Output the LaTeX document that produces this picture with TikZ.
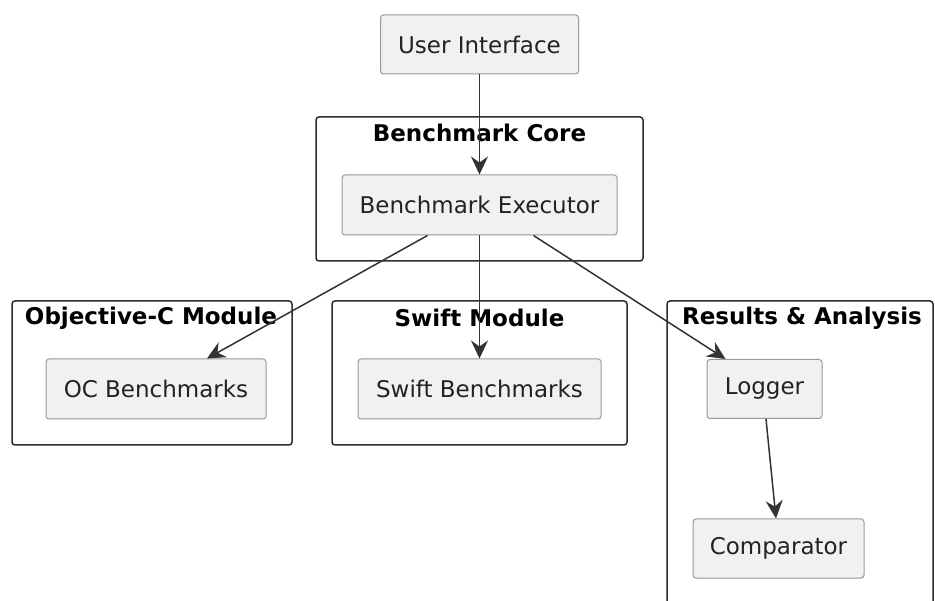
\documentclass[tikz,border=0pt]{standalone}
\usepackage{fontspec}
\setmainfont{DejaVu Sans}
\usetikzlibrary{arrows.meta,calc}
\definecolor{compfill}{HTML}{F1F1F1}
\definecolor{compdraw}{HTML}{999999}
\definecolor{txt}{HTML}{222222}
\definecolor{clus}{HTML}{2E2E2E}
\definecolor{arr}{HTML}{333333}
\begin{document}
\begin{tikzpicture}[x=1pt,y=-1pt,
  comp/.style={draw=compdraw, fill=compfill, line width=1pt, rounded corners=3pt,
    inner sep=0pt, text=txt, font=\fontsize{23}{27}\selectfont},
  clusterbox/.style={draw=clus, line width=1.5pt, rounded corners=3pt},
  clustertitle/.style={inner sep=0pt, text=black, font=\fontsize{23}{27}\selectfont\bfseries},
  conn/.style={draw=arr, line width=1.5pt, -{Stealth[length=18pt,width=17pt,inset=6pt]}}]
\useasboundingbox (0,0) rectangle (935,601);
\clip (0,0) rectangle (935,601);
\fill[white] (0,0) rectangle (935,601);
% clusters
\draw[clusterbox] (316,117) rectangle (643,261);
\node[clustertitle] (tcore) at (479.5,133) {Benchmark Core};
\draw[clusterbox] (12,301) rectangle (292,445);
\node[clustertitle] (toc) at (151,318) {Objective-C Module};
\draw[clusterbox] (332,301) rectangle (627,445);
\node[clustertitle] (tsw) at (479.5,318) {Swift Module};
\draw[clusterbox] (667,301) rectangle (933,640);
\node[clustertitle] (tres) at (802,318) {Results \& Analysis};
% components
\node[comp, minimum width=198pt, minimum height=59pt] (ui) at (479.5,44.5) {User Interface};
\node[comp, minimum width=275pt, minimum height=60pt] (exec) at (479.5,205) {Benchmark Executor};
\node[comp, minimum width=220pt, minimum height=60pt] (oc) at (156,389) {OC Benchmarks};
\node[comp, minimum width=243pt, minimum height=60pt] (sw) at (479.5,389) {Swift Benchmarks};
\node[comp, minimum width=115pt, minimum height=59pt] (log) at (764.5,389) {Logger};
\node[comp, minimum width=171pt, minimum height=59pt] (cmp) at (778.5,548.5) {Comparator};
% connectors
\draw[conn] (ui.south) -- (exec.north);
\draw[conn] ([xshift=-52pt]exec.south) -- ([xshift=51pt]oc.north);
\draw[conn] (exec.south) -- (sw.north);
\draw[conn] ([xshift=54pt]exec.south) -- ([xshift=-39pt]log.north);
\draw[conn] ([xshift=1.5pt]log.south) -- ([xshift=-2.5pt]cmp.north);
\end{tikzpicture}
\end{document}
